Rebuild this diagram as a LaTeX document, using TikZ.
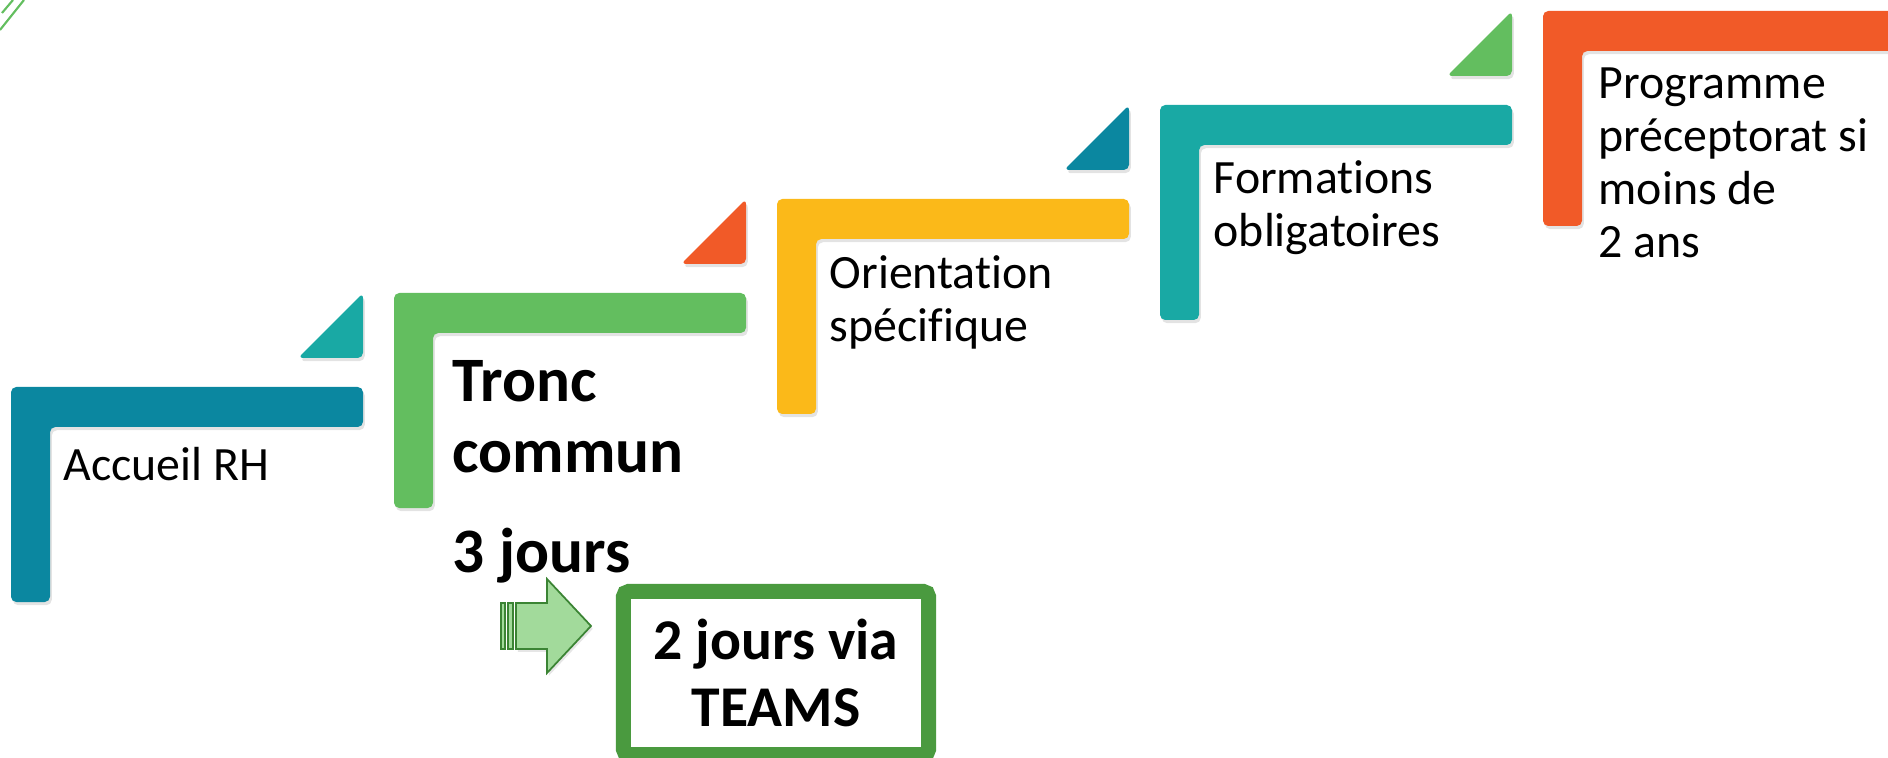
\documentclass[tikz,border=0pt]{standalone}
\usepackage{fontspec}
\setmainfont{Carlito}[Ligatures={NoCommon}]
\usepackage{tikz}
\usetikzlibrary{shadows}

\definecolor{rhblue}{HTML}{0B87A0}
\definecolor{tronc}{HTML}{63BE5F}
\definecolor{orient}{HTML}{FBB919}
\definecolor{forma}{HTML}{19A9A4}
\definecolor{precep}{HTML}{F15A28}
\definecolor{teamsgreen}{HTML}{4A9A3F}
\definecolor{arrowfill}{HTML}{A2DA9B}
\definecolor{arrowline}{HTML}{3B8434}

\begin{document}
\begin{tikzpicture}[x=0.01cm, y=-0.01cm,
    bar/.style={rounded corners=1.5pt, drop shadow={opacity=0.22, shadow xshift=0.5pt, shadow yshift=-0.9pt}},
    steptext/.style={anchor=base west, align=left, inner sep=0pt, font=\fontsize{13.6}{15.1}\selectfont},
    bigtext/.style={anchor=base west, align=left, inner sep=0pt, font=\bfseries\fontsize{18}{20.2}\selectfont},
    teamsbox/.style={draw=teamsgreen, line width=0.15cm, rounded corners=1.5pt, align=center, inner sep=0pt,
        minimum width=3.05cm, minimum height=1.63cm, font=\bfseries\fontsize{16.4}{18.8}\selectfont}]
    \useasboundingbox (0,0) rectangle (1888,758);
    \clip (0,0) rectangle (1888,758);

    % corner decoration
    \draw[tronc, line width=0.6pt] (2,13) -- (13,0);
    \draw[tronc, line width=0.6pt] (0,30) -- (24,0);

    % the five steps, each 383 to the right and 94 up
    \fill[rhblue, bar] (11,387) -- ++(352,0) -- ++(0,40) -- ++(-313,0) -- ++(0,175) -- ++(-39,0) -- cycle;
    \fill[forma, bar] (363,358) -- ++(0,-65) -- ++(-65,65) -- cycle;
    \fill[tronc, bar] (394,293) -- ++(352,0) -- ++(0,40) -- ++(-313,0) -- ++(0,175) -- ++(-39,0) -- cycle;
    \fill[precep, bar] (746,264) -- ++(0,-65) -- ++(-65,65) -- cycle;
    \fill[orient, bar] (777,199) -- ++(352,0) -- ++(0,40) -- ++(-313,0) -- ++(0,175) -- ++(-39,0) -- cycle;
    \fill[rhblue, bar] (1129,170) -- ++(0,-65) -- ++(-65,65) -- cycle;
    \fill[forma, bar] (1160,105) -- ++(352,0) -- ++(0,40) -- ++(-313,0) -- ++(0,175) -- ++(-39,0) -- cycle;
    \fill[tronc, bar] (1512,76) -- ++(0,-65) -- ++(-65,65) -- cycle;
    \fill[precep, bar] (1543,11) -- ++(352,0) -- ++(0,40) -- ++(-313,0) -- ++(0,175) -- ++(-39,0) -- cycle;

    % anchored on the baseline of the last line
    \node[steptext] (accueil) at (63,480) {Accueil RH};
    \node[bigtext] (tronccommun) at (452,572) {Tronc\\commun\\[8pt]3 jours};
    \node[steptext] (orientation) at (829,342) {Orientation\\spécifique};
    \node[steptext] (formations) at (1213,247) {Formations\\obligatoires};
    \node[steptext] (preceptorat) at (1598,258) {Programme\\préceptorat si\\moins de\\2 ans};

    % arrow to the TEAMS box
    \filldraw[fill=arrowfill, draw=arrowline, line width=0.5pt, drop shadow={opacity=0.2, shadow xshift=0.5pt, shadow yshift=-0.8pt}]
        (516,603) -- (547,603) -- (547,579) -- (591,626) -- (547,673) -- (547,649) -- (516,649) -- cycle;
    \filldraw[fill=arrowfill, draw=arrowline, line width=0.5pt] (501,603) rectangle (505,649);
    \filldraw[fill=arrowfill, draw=arrowline, line width=0.5pt] (508,603) rectangle (513,649);

    \node[teamsbox] (teams) at (776,673) {2 jours via\\TEAMS};
\end{tikzpicture}
\end{document}
